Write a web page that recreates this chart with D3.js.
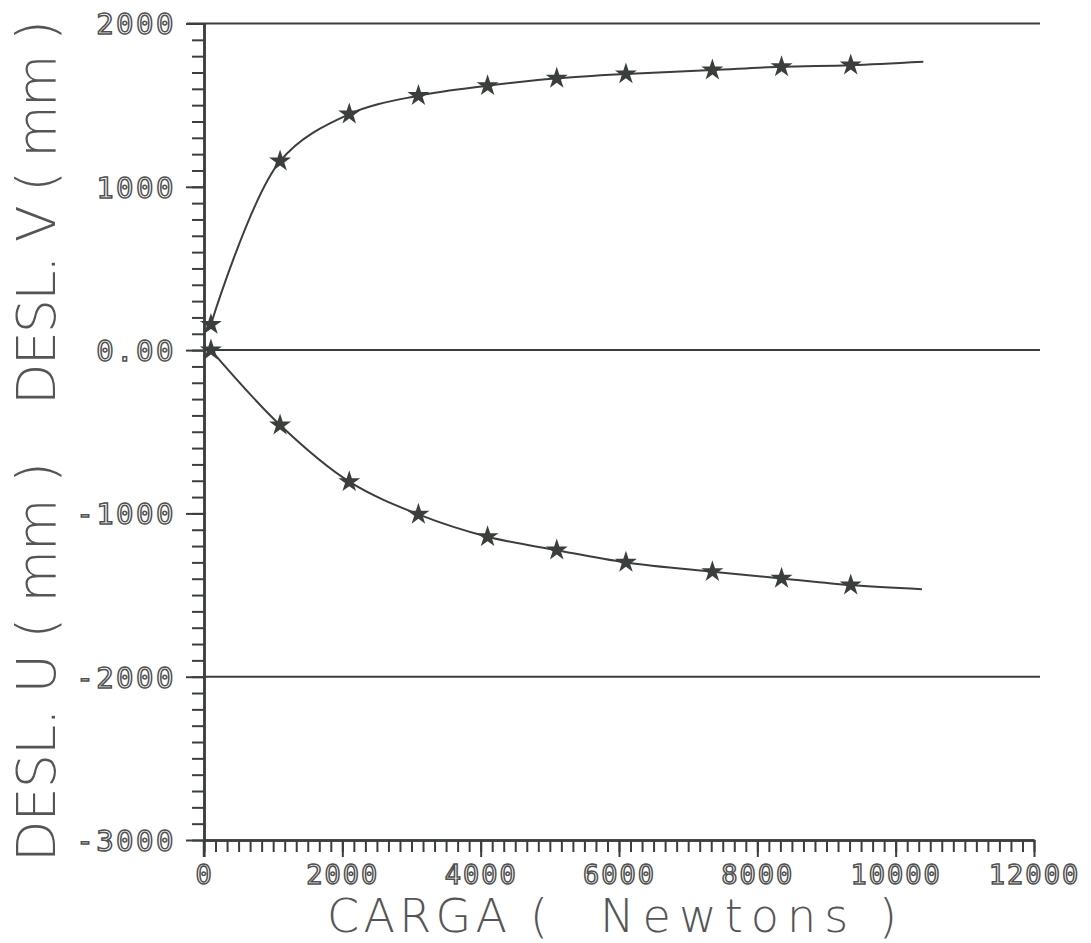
<!DOCTYPE html>
<html>
<head>
<meta charset="utf-8">
<script src="https://cdn.jsdelivr.net/npm/d3@7"></script>
<style>
  body { margin: 0; background: #fff; }
  .tick-label { font-family: "DejaVu Sans Mono", monospace; fill: #fff; stroke: #505050; stroke-width: 1.5px; }
  .title { font-family: "DejaVu Sans", sans-serif; font-weight: 200; fill: #555; }
</style>
</head>
<body>
<svg class="viz"></svg>
<script>
var width = 1091,
  height = 943;

// load (Newtons) at each marked point
var load_v = [100, 1100, 2100, 3100, 4100, 5100, 6100, 7350, 8350, 9350];
var desl_v = [157, 1157, 1445, 1558, 1619, 1664, 1691, 1715, 1735, 1745];
var load_u = [100, 1100, 2100, 3100, 4100, 5100, 6100, 7350, 8350, 9350];
var desl_u = [0, -459, -806, -1006, -1143, -1225, -1300, -1357, -1398, -1439];
// the fitted curves run a little past the last marker
var curve_end_load = [10400, 10380];
var curve_end_desl = [1766, -1464];

var x_ticks = [0, 2000, 4000, 6000, 8000, 10000, 12000];
var x_labels = ["0", "2000", "4000", "6000", "8000", "10000", "12000"];
var y_ticks = [2000, 1000, 0, -1000, -2000, -3000];
var y_labels = ["2000", "1000", "0.00", "-1000", "-2000", "-3000"];
var grid_values = [2000, 0, -2000];

var ink = "#3b3f3b";

var x = d3.scaleLinear().domain([0, 12000]).range([204, 1034]);
var y = d3.scaleLinear().domain([-3000, 2000]).range([840, 23.5]);

var viz = d3.select(".viz")
  .attr("width", width)
  .attr("height", height);

// horizontal reference lines
viz.selectAll(".grid")
  .data(grid_values)
  .enter()
  .append("line")
  .attr("x1", d => d == 2000 ? 187 : x(0))
  .attr("x2", 1040)
  .attr("y1", d => y(d))
  .attr("y2", d => y(d))
  .attr("stroke", ink)
  .attr("stroke-width", 2);

// minor ticks
var y_minor = d3.range(-3000, 2001, 100);
var x_minor = d3.range(0, 12001, 2000 / 12);

var y_minor_axis = viz.append("g")
  .attr("transform", "translate(" + x(0) + ",0)")
  .call(d3.axisLeft(y).tickValues(y_minor).tickSize(12).tickFormat("").tickSizeOuter(0));
var x_minor_axis = viz.append("g")
  .attr("transform", "translate(0," + y(-3000) + ")")
  .call(d3.axisBottom(x).tickValues(x_minor).tickSize(12).tickFormat("").tickSizeOuter(0));

// major ticks with labels
var y_axis = viz.append("g")
  .attr("transform", "translate(" + x(0) + ",0)")
  .call(d3.axisLeft(y).tickValues(y_ticks).tickSize(18).tickPadding(10).tickSizeOuter(0)
    .tickFormat((d, i) => y_labels[i]));
var x_axis = viz.append("g")
  .attr("transform", "translate(0," + y(-3000) + ")")
  .call(d3.axisBottom(x).tickValues(x_ticks).tickSize(17).tickSizeOuter(0)
    .tickFormat((d, i) => x_labels[i]));

[y_minor_axis, x_minor_axis, y_axis, x_axis].forEach(function(g) {
  g.selectAll("path, line").attr("stroke", ink).attr("stroke-width", 2);
  g.select(".domain").attr("stroke-width", 2.5);
});

y_axis.selectAll("text")
  .attr("class", "tick-label")
  .style("font-size", "29px")
  .style("letter-spacing", "2.5px")
  .attr("dy", "0.36em");
x_axis.selectAll("text")
  .attr("class", "tick-label")
  .style("font-size", "27px")
  .style("letter-spacing", "2px")
  .attr("y", 44)
  .attr("dy", 0);

// y axis runs down past the x axis to the 0 tick
viz.append("line")
  .attr("x1", x(0)).attr("x2", x(0))
  .attr("y1", y(-3000)).attr("y2", y(-3000) + 17)
  .attr("stroke", ink).attr("stroke-width", 2.5);

// curves
var line = d3.line()
  .x(d => x(d[0]))
  .y(d => y(d[1]))
  .curve(d3.curveCatmullRom.alpha(0.5));

var v_points = load_v.map((d, i) => [d, desl_v[i]]);
var u_points = load_u.map((d, i) => [d, desl_u[i]]);

viz.append("path")
  .attr("d", line(v_points.concat([[curve_end_load[0], curve_end_desl[0]]])))
  .attr("fill", "none").attr("stroke", ink).attr("stroke-width", 2);
viz.append("path")
  .attr("d", line(u_points.concat([[curve_end_load[1], curve_end_desl[1]]])))
  .attr("fill", "none").attr("stroke", ink).attr("stroke-width", 2);

var star = d3.symbol().type(d3.symbolStar).size(150);
viz.selectAll(".marker")
  .data(v_points.concat(u_points))
  .enter()
  .append("path")
  .attr("d", star)
  .attr("transform", d => "translate(" + x(d[0]) + "," + y(d[1]) + ")")
  .attr("fill", ink);

// titles
viz.append("text")
  .attr("class", "title")
  .attr("x", 327).attr("y", 932)
  .attr("textLength", 221).attr("lengthAdjust", "spacing")
  .style("font-size", "46px")
  .text("CARGA (");
viz.append("text")
  .attr("class", "title")
  .attr("x", 600).attr("y", 932)
  .attr("textLength", 297).attr("lengthAdjust", "spacing")
  .style("font-size", "46px")
  .text("Newtons )");

viz.append("text")
  .attr("class", "title")
  .attr("transform", "rotate(-90)")
  .attr("x", -862).attr("y", 55)
  .attr("textLength", 400).attr("lengthAdjust", "spacing")
  .style("font-size", "54px")
  .text("DESL. U ( mm )");
viz.append("text")
  .attr("class", "title")
  .attr("transform", "rotate(-90)")
  .attr("x", -405).attr("y", 55)
  .attr("textLength", 385).attr("lengthAdjust", "spacing")
  .style("font-size", "54px")
  .text("DESL. V ( mm )");
</script>
</body>
</html>
